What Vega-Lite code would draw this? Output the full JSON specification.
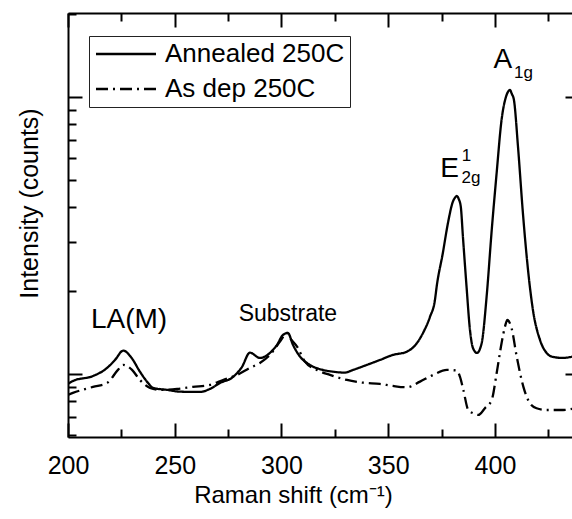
{
  "$schema": "https://vega.github.io/schema/vega-lite/v6.json",
  "width": 504,
  "height": 424,
  "autosize": {"type": "none"},
  "padding": {"left": 68, "top": 13, "right": 0, "bottom": 82},
  "background": "white",
  "config": {
    "view": {"stroke": null},
    "font": "Liberation Sans",
    "axis": {
      "grid": false,
      "domainColor": "black",
      "domainWidth": 2,
      "tickColor": "black",
      "tickWidth": 2,
      "labelColor": "black",
      "titleColor": "black",
      "titleFontWeight": "normal",
      "labelFont": "Liberation Sans",
      "titleFont": "Liberation Sans",
      "labelFlush": false,
      "labelOverlap": false,
      "labelBound": false
    },
    "legend": {
      "orient": "none",
      "legendX": 21,
      "legendY": 23,
      "strokeColor": "#222",
      "strokeWidth": 1,
      "fillColor": "white",
      "padding": 5,
      "labelFont": "Liberation Sans",
      "labelFontSize": 26,
      "labelColor": "black",
      "labelLimit": 400,
      "labelOffset": 45,
      "rowPadding": 9,
      "symbolType": "M-1.1,0H4.9",
      "symbolSize": 400,
      "symbolStrokeWidth": 2.3,
      "symbolStrokeColor": "black",
      "symbolFillColor": "transparent"
    }
  },
  "datasets": {
    "spectra": [
      {"series": "Annealed 250C", "shift": 200.0, "intensity": 920},
      {"series": "Annealed 250C", "shift": 202.3, "intensity": 943},
      {"series": "Annealed 250C", "shift": 211.7, "intensity": 983},
      {"series": "Annealed 250C", "shift": 218.3, "intensity": 1051},
      {"series": "Annealed 250C", "shift": 222.0, "intensity": 1123},
      {"series": "Annealed 250C", "shift": 225.9, "intensity": 1214},
      {"series": "Annealed 250C", "shift": 229.8, "intensity": 1142},
      {"series": "Annealed 250C", "shift": 233.7, "intensity": 1019},
      {"series": "Annealed 250C", "shift": 237.5, "intensity": 928},
      {"series": "Annealed 250C", "shift": 239.8, "intensity": 890},
      {"series": "Annealed 250C", "shift": 246.4, "intensity": 876},
      {"series": "Annealed 250C", "shift": 252.5, "intensity": 863},
      {"series": "Annealed 250C", "shift": 261.8, "intensity": 861},
      {"series": "Annealed 250C", "shift": 266.5, "intensity": 883},
      {"series": "Annealed 250C", "shift": 271.2, "intensity": 928},
      {"series": "Annealed 250C", "shift": 277.3, "intensity": 975},
      {"series": "Annealed 250C", "shift": 281.5, "intensity": 1060},
      {"series": "Annealed 250C", "shift": 285.2, "intensity": 1194},
      {"series": "Annealed 250C", "shift": 289.9, "intensity": 1142},
      {"series": "Annealed 250C", "shift": 294.6, "intensity": 1191},
      {"series": "Annealed 250C", "shift": 297.9, "intensity": 1273},
      {"series": "Annealed 250C", "shift": 300.7, "intensity": 1383},
      {"series": "Annealed 250C", "shift": 303.0, "intensity": 1406},
      {"series": "Annealed 250C", "shift": 305.4, "intensity": 1273},
      {"series": "Annealed 250C", "shift": 308.7, "intensity": 1155},
      {"series": "Annealed 250C", "shift": 313.3, "intensity": 1078},
      {"series": "Annealed 250C", "shift": 319.4, "intensity": 1034},
      {"series": "Annealed 250C", "shift": 324.1, "intensity": 1019},
      {"series": "Annealed 250C", "shift": 329.7, "intensity": 1011},
      {"series": "Annealed 250C", "shift": 333.5, "intensity": 1034},
      {"series": "Annealed 250C", "shift": 340.0, "intensity": 1078},
      {"series": "Annealed 250C", "shift": 346.1, "intensity": 1123},
      {"series": "Annealed 250C", "shift": 352.2, "intensity": 1171},
      {"series": "Annealed 250C", "shift": 358.8, "intensity": 1204},
      {"series": "Annealed 250C", "shift": 363.5, "intensity": 1294},
      {"series": "Annealed 250C", "shift": 366.3, "intensity": 1406},
      {"series": "Annealed 250C", "shift": 369.6, "intensity": 1610},
      {"series": "Annealed 250C", "shift": 371.9, "intensity": 1850},
      {"series": "Annealed 250C", "shift": 372.7, "intensity": 2066},
      {"series": "Annealed 250C", "shift": 375.6, "intensity": 2734},
      {"series": "Annealed 250C", "shift": 378.0, "intensity": 3509},
      {"series": "Annealed 250C", "shift": 380.3, "intensity": 4188},
      {"series": "Annealed 250C", "shift": 381.3, "intensity": 4330},
      {"series": "Annealed 250C", "shift": 382.1, "intensity": 4391},
      {"series": "Annealed 250C", "shift": 383.0, "intensity": 4290},
      {"series": "Annealed 250C", "shift": 384.0, "intensity": 4018},
      {"series": "Annealed 250C", "shift": 385.0, "intensity": 3131},
      {"series": "Annealed 250C", "shift": 386.7, "intensity": 2066},
      {"series": "Annealed 250C", "shift": 388.3, "intensity": 1442},
      {"series": "Annealed 250C", "shift": 389.7, "intensity": 1241},
      {"series": "Annealed 250C", "shift": 391.6, "intensity": 1191},
      {"series": "Annealed 250C", "shift": 393.8, "intensity": 1294},
      {"series": "Annealed 250C", "shift": 396.1, "intensity": 1901},
      {"series": "Annealed 250C", "shift": 398.5, "intensity": 3311},
      {"series": "Annealed 250C", "shift": 400.8, "intensity": 5316},
      {"series": "Annealed 250C", "shift": 403.1, "intensity": 8260},
      {"series": "Annealed 250C", "shift": 405.2, "intensity": 10030},
      {"series": "Annealed 250C", "shift": 406.1, "intensity": 10430},
      {"series": "Annealed 250C", "shift": 407.0, "intensity": 10600},
      {"series": "Annealed 250C", "shift": 407.9, "intensity": 10260},
      {"series": "Annealed 250C", "shift": 408.9, "intensity": 9754},
      {"series": "Annealed 250C", "shift": 410.8, "intensity": 6616},
      {"series": "Annealed 250C", "shift": 413.1, "intensity": 3814},
      {"series": "Annealed 250C", "shift": 415.5, "intensity": 2374},
      {"series": "Annealed 250C", "shift": 417.8, "intensity": 1702},
      {"series": "Annealed 250C", "shift": 421.1, "intensity": 1327},
      {"series": "Annealed 250C", "shift": 424.2, "intensity": 1191},
      {"series": "Annealed 250C", "shift": 427.2, "intensity": 1152},
      {"series": "Annealed 250C", "shift": 431.9, "intensity": 1142},
      {"series": "Annealed 250C", "shift": 436.1, "intensity": 1155},

      {"series": "As dep 250C", "shift": 200.0, "intensity": 840},
      {"series": "As dep 250C", "shift": 202.3, "intensity": 854},
      {"series": "As dep 250C", "shift": 211.7, "intensity": 898},
      {"series": "As dep 250C", "shift": 218.3, "intensity": 928},
      {"series": "As dep 250C", "shift": 223.4, "intensity": 1034},
      {"series": "As dep 250C", "shift": 225.8, "intensity": 1078},
      {"series": "As dep 250C", "shift": 230.0, "intensity": 1034},
      {"series": "As dep 250C", "shift": 233.7, "intensity": 951},
      {"series": "As dep 250C", "shift": 238.4, "intensity": 890},
      {"series": "As dep 250C", "shift": 243.1, "intensity": 876},
      {"series": "As dep 250C", "shift": 251.1, "intensity": 883},
      {"series": "As dep 250C", "shift": 258.5, "intensity": 898},
      {"series": "As dep 250C", "shift": 266.5, "intensity": 913},
      {"series": "As dep 250C", "shift": 272.6, "intensity": 951},
      {"series": "As dep 250C", "shift": 279.2, "intensity": 992},
      {"series": "As dep 250C", "shift": 285.2, "intensity": 1051},
      {"series": "As dep 250C", "shift": 289.9, "intensity": 1096},
      {"series": "As dep 250C", "shift": 294.6, "intensity": 1171},
      {"series": "As dep 250C", "shift": 299.3, "intensity": 1308},
      {"series": "As dep 250C", "shift": 302.6, "intensity": 1406},
      {"series": "As dep 250C", "shift": 304.0, "intensity": 1349},
      {"series": "As dep 250C", "shift": 307.3, "intensity": 1255},
      {"series": "As dep 250C", "shift": 311.0, "intensity": 1108},
      {"series": "As dep 250C", "shift": 316.6, "intensity": 1034},
      {"series": "As dep 250C", "shift": 322.7, "intensity": 992},
      {"series": "As dep 250C", "shift": 330.7, "intensity": 951},
      {"series": "As dep 250C", "shift": 338.2, "intensity": 930},
      {"series": "As dep 250C", "shift": 346.1, "intensity": 920},
      {"series": "As dep 250C", "shift": 352.2, "intensity": 905},
      {"series": "As dep 250C", "shift": 358.8, "intensity": 895},
      {"series": "As dep 250C", "shift": 364.9, "intensity": 938},
      {"series": "As dep 250C", "shift": 371.0, "intensity": 992},
      {"series": "As dep 250C", "shift": 377.5, "intensity": 1034},
      {"series": "As dep 250C", "shift": 382.2, "intensity": 1028},
      {"series": "As dep 250C", "shift": 383.6, "intensity": 978},
      {"series": "As dep 250C", "shift": 385.2, "intensity": 876},
      {"series": "As dep 250C", "shift": 387.5, "intensity": 741},
      {"series": "As dep 250C", "shift": 389.8, "intensity": 721},
      {"series": "As dep 250C", "shift": 392.2, "intensity": 711},
      {"series": "As dep 250C", "shift": 395.3, "intensity": 752},
      {"series": "As dep 250C", "shift": 398.5, "intensity": 806},
      {"series": "As dep 250C", "shift": 400.8, "intensity": 1006},
      {"series": "As dep 250C", "shift": 403.1, "intensity": 1291},
      {"series": "As dep 250C", "shift": 404.7, "intensity": 1482},
      {"series": "As dep 250C", "shift": 405.8, "intensity": 1566},
      {"series": "As dep 250C", "shift": 407.8, "intensity": 1462},
      {"series": "As dep 250C", "shift": 410.2, "intensity": 1155},
      {"series": "As dep 250C", "shift": 413.3, "intensity": 900},
      {"series": "As dep 250C", "shift": 416.4, "intensity": 784},
      {"series": "As dep 250C", "shift": 419.5, "intensity": 752},
      {"series": "As dep 250C", "shift": 424.2, "intensity": 741},
      {"series": "As dep 250C", "shift": 432.0, "intensity": 741},
      {"series": "As dep 250C", "shift": 436.1, "intensity": 748}
    ],
    "peakLabels": [
      {"label": "LA(M)", "shift": 228.6, "intensity": 1466},
      {"label": "E", "shift": 378.7, "intensity": 5143},
      {"label": "A", "shift": 403.7, "intensity": 12727}
    ],
    "bandLabels": [
      {"label": "Substrate", "shift": 303.0, "intensity": 1547}
    ],
    "modeIndices": [
      {"label": "1", "shift": 384.5, "intensity": 5875},
      {"label": "2g", "shift": 384.3, "intensity": 4892},
      {"label": "1g", "shift": 408.9, "intensity": 11712}
    ]
  },
  "resolve": {"axis": {"x": "independent", "y": "independent"}},
  "layer": [
    {
      "data": {"name": "spectra"},
      "mark": {"type": "line", "interpolate": "monotone", "strokeWidth": 2.3, "color": "black", "clip": true},
      "encoding": {
        "x": {
          "field": "shift", "type": "quantitative",
          "scale": {"domain": [200, 436.1], "zero": false, "nice": false},
          "axis": {
            "orient": "bottom", "values": [200, 250, 300, 350, 400],
            "tickSize": -14, "labelPadding": 30, "labelFontSize": 25,
            "title": "Raman shift (cm⁻¹)", "titleFontSize": 24,
            "titleX": 225, "titleY": 46, "titleBaseline": "top", "titleAlign": "center"
          }
        },
        "y": {
          "field": "intensity", "type": "quantitative",
          "scale": {"type": "log", "domain": [592, 20100], "nice": false},
          "axis": {
            "orient": "left", "values": [1000, 10000],
            "tickSize": -14, "labels": false,
            "title": "Intensity (counts)", "titleFontSize": 25,
            "titleX": -26, "titleY": 190, "titleBaseline": "bottom", "titleAngle": -90, "titleAlign": "center"
          }
        },
        "strokeDash": {
          "field": "series", "type": "nominal",
          "scale": {"domain": ["Annealed 250C", "As dep 250C"], "range": [[1, 0], [12, 5, 2, 5]]},
          "legend": {"title": null}
        }
      }
    },
    {
      "data": {"name": "peakLabels"},
      "mark": {"type": "text", "fontSize": 28, "align": "center", "baseline": "alphabetic", "color": "black", "font": "Liberation Sans"},
      "encoding": {
        "x": {
          "field": "shift", "type": "quantitative",
          "scale": {"domain": [200, 436.1], "zero": false, "nice": false},
          "axis": {"orient": "top", "values": [200, 250, 300, 350, 400], "tickSize": -14, "labels": false, "title": null}
        },
        "y": {
          "field": "intensity", "type": "quantitative",
          "scale": {"type": "log", "domain": [592, 20100], "nice": false},
          "axis": {
            "orient": "left",
            "values": [600, 700, 800, 900, 2000, 3000, 4000, 5000, 6000, 7000, 8000, 9000, 20000],
            "tickSize": -8, "labels": false, "domain": false, "title": null
          }
        },
        "text": {"field": "label"}
      }
    },
    {
      "data": {"name": "bandLabels"},
      "mark": {"type": "text", "fontSize": 23, "align": "center", "baseline": "alphabetic", "color": "black", "font": "Liberation Sans"},
      "encoding": {
        "x": {
          "field": "shift", "type": "quantitative",
          "scale": {"domain": [200, 436.1], "zero": false, "nice": false},
          "axis": {"orient": "bottom", "values": [225, 275, 325, 375, 425], "tickSize": -8, "labels": false, "domain": false, "title": null}
        },
        "y": {
          "field": "intensity", "type": "quantitative",
          "scale": {"type": "log", "domain": [592, 20100], "nice": false},
          "axis": {"orient": "right", "values": [1000, 10000], "tickSize": -7, "labels": false, "domain": false, "title": null}
        },
        "text": {"field": "label"}
      }
    },
    {
      "data": {"name": "modeIndices"},
      "mark": {"type": "text", "fontSize": 17, "align": "left", "baseline": "alphabetic", "color": "black", "font": "Liberation Sans"},
      "encoding": {
        "x": {
          "field": "shift", "type": "quantitative",
          "scale": {"domain": [200, 436.1], "zero": false, "nice": false},
          "axis": {"orient": "top", "values": [225, 275, 325, 375, 425], "tickSize": -8, "labels": false, "domain": false, "title": null}
        },
        "y": {
          "field": "intensity", "type": "quantitative",
          "scale": {"type": "log", "domain": [592, 20100], "nice": false},
          "axis": null
        },
        "text": {"field": "label"}
      }
    }
  ]
}
